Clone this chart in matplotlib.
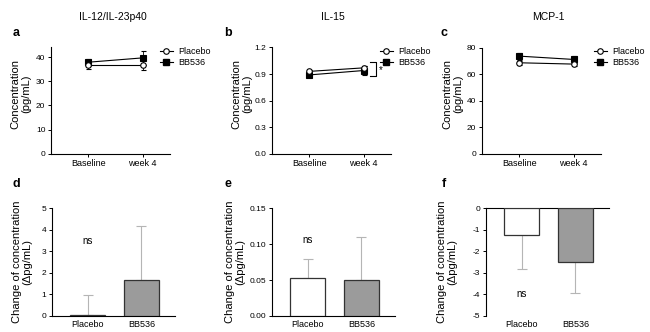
import matplotlib
matplotlib.use('Agg')
import matplotlib.pyplot as plt
from matplotlib.lines import Line2D

plt.rcParams['font.family'] = ['Liberation Sans', 'DejaVu Sans']

# ---------------- data ----------------
timepoints = ['Baseline', 'week 4']
groups = ['Placebo', 'BB536']
titles = ['IL-12/IL-23p40', 'IL-15', 'MCP-1']

il12_placebo = [36.7, 36.7]
il12_placebo_err = [1.5, 2.0]
il12_bb536 = [37.9, 39.7]
il12_bb536_err = [1.5, 2.9]

il15_placebo = [0.93, 0.97]
il15_placebo_err = [0.02, 0.02]
il15_bb536 = [0.89, 0.94]
il15_bb536_err = [0.02, 0.055]

mcp1_placebo = [68.5, 67.5]
mcp1_placebo_err = [1.5, 1.5]
mcp1_bb536 = [73.5, 71.0]
mcp1_bb536_err = [2.7, 2.6]

il12_change = [0.05, 1.68]
il12_change_err = [0.93, 2.48]
il15_change = [0.0534, 0.0497]
il15_change_err = [0.026, 0.060]
mcp1_change = [-1.24, -2.49]
mcp1_change_err = [1.58, 1.46]

top_yticks = [[0, 10, 20, 30, 40], [0.0, 0.3, 0.6, 0.9, 1.2], [0, 20, 40, 60, 80]]
top_ylims = [(0, 44), (0, 1.2), (0, 80)]
top_yfmt = ['{:.0f}', '{:.1f}', '{:.0f}']
bot_yticks = [[0, 1, 2, 3, 4, 5], [0.00, 0.05, 0.10, 0.15], [0, -1, -2, -3, -4, -5]]
bot_ylims = [(0, 5), (0, 0.15), (-5, 0)]
bot_yfmt = ['{:.0f}', '{:.2f}', '{:.0f}']
ns_y = [3.5, 0.106, -4.0]

# ---------------- layout ----------------
W, H = 650, 332
fig = plt.figure(figsize=(W / 100, H / 100), dpi=100)
fig.patch.set_facecolor('white')


def add_ax(left, top, width, height):
    return fig.add_axes([left / W, 1 - (top + height) / H, width / W, height / H])


def style(ax):
    for s in ['top', 'right']:
        ax.spines[s].set_visible(False)
    for s in ['left', 'bottom']:
        ax.spines[s].set_linewidth(0.8)
    ax.tick_params(axis='both', direction='out', length=2.5, width=0.7, pad=1.5)
    ax.tick_params(axis='y', labelsize=6)
    ax.tick_params(axis='x', labelsize=6.5)


top_lefts = [51, 272, 482]
bot_lefts = [52, 272, 486]
top_label_off = [-20, -20, -19]
bot_label_off = [-20, -27, -29]
letters_top = ['a', 'b', 'c']
letters_bot = ['d', 'e', 'f']
title_x = [113, 333, 548]

top_data = [
    (il12_placebo, il12_placebo_err, il12_bb536, il12_bb536_err),
    (il15_placebo, il15_placebo_err, il15_bb536, il15_bb536_err),
    (mcp1_placebo, mcp1_placebo_err, mcp1_bb536, mcp1_bb536_err),
]
bot_data = [
    (il12_change, il12_change_err),
    (il15_change, il15_change_err),
    (mcp1_change, mcp1_change_err),
]
legend_x = [160, 380, 594]

x = [0, 1]
for i in range(3):
    ax = add_ax(top_lefts[i], 47.5, 119, 106.2)
    style(ax)
    p, pe, b, be = top_data[i]
    ax.errorbar(x, p, yerr=pe, color='black', lw=0.8, marker='o', ms=4,
                mfc='white', mec='black', mew=0.8, capsize=1.8, elinewidth=0.6,
                capthick=0.6, zorder=4, clip_on=False)
    ax.errorbar(x, b, yerr=be, color='black', lw=0.8, marker='s', ms=3.8,
                mfc='black', mec='black', mew=0.8, capsize=1.8, elinewidth=0.6,
                capthick=0.6, zorder=3, clip_on=False)
    ax.set_xlim(-0.68, 1.5)
    ax.set_ylim(*top_ylims[i])
    ax.set_yticks(top_yticks[i])
    ax.set_yticklabels([top_yfmt[i].format(v) for v in top_yticks[i]])
    ax.set_xticks(x)
    ax.set_xticklabels(timepoints)
    ax.set_ylabel('Concentration\n(pg/mL)', fontsize=8, linespacing=1.05)
    ax.yaxis.set_label_coords(top_label_off[i] / 119, 0.56)
    handles = [
        Line2D([], [], color='black', lw=0.8, marker='o', ms=4, mfc='white', mec='black', mew=0.8),
        Line2D([], [], color='black', lw=0.8, marker='s', ms=3.8, mfc='black', mec='black'),
    ]
    ax.legend(handles, groups, loc='upper left', frameon=False, fontsize=6.5,
              bbox_to_anchor=(legend_x[i] / W, 1 - 47 / H), bbox_transform=fig.transFigure,
              borderpad=0, borderaxespad=0, handlelength=1.4, handletextpad=0.6,
              labelspacing=0.25)
    fig.text(title_x[i] / W, 1 - 17 / H, titles[i], ha='center', va='center', fontsize=7.5)
    fig.text((16 + [0, 212, 428][i]) / W, 1 - 33 / H, letters_top[i], ha='center',
             va='center', fontsize=9, fontweight='bold')
    if i == 1:
        ax.plot([1.12, 1.23, 1.23, 1.12], [1.035, 1.035, 0.88, 0.88], color='black',
                lw=0.8, clip_on=False)
        ax.text(1.31, 0.94, '*', ha='center', va='center', fontsize=7)

for i in range(3):
    ax = add_ax(bot_lefts[i], 208.3, 122.5, 107.7)
    style(ax)
    vals, errs = bot_data[i]
    ax.bar(x, vals, width=0.65, color=['white', '#9b9b9b'], edgecolor='#333333',
           linewidth=0.9, zorder=3)
    for xi, v, e in zip(x, vals, errs):
        if v >= 0:
            ax.errorbar([xi], [v], yerr=[[0], [e]], color='#b5b5b5', lw=0, elinewidth=0.8,
                        capsize=3.5, capthick=0.8, zorder=2)
        else:
            ax.errorbar([xi], [v], yerr=[[e], [0]], color='#b5b5b5', lw=0, elinewidth=0.8,
                        capsize=3.5, capthick=0.8, zorder=2)
    ax.set_xlim(-0.67, 1.62)
    ax.set_ylim(*bot_ylims[i])
    ax.set_yticks(bot_yticks[i])
    ax.set_yticklabels([bot_yfmt[i].format(v) for v in bot_yticks[i]])
    ax.set_xticks(x)
    ax.set_xticklabels(groups)
    ax.tick_params(axis='x', length=0, pad=3)
    if i == 2:
        ax.spines['bottom'].set_visible(False)
        ax.spines['top'].set_visible(True)
        ax.spines['top'].set_linewidth(0.8)
    ax.text(0, ns_y[i], 'ns', ha='center', va='center', fontsize=7)
    ax.set_ylabel('Change of concentration\n(\u0394pg/mL)', fontsize=8, linespacing=1.05)
    ax.yaxis.set_label_coords(bot_label_off[i] / 122.5, 0.5)
    fig.text((16 + [0, 212, 428][i]) / W, 1 - 184 / H, letters_bot[i], ha='center',
             va='center', fontsize=9, fontweight='bold')

fig.savefig('out.png', dpi=100, facecolor='white')
